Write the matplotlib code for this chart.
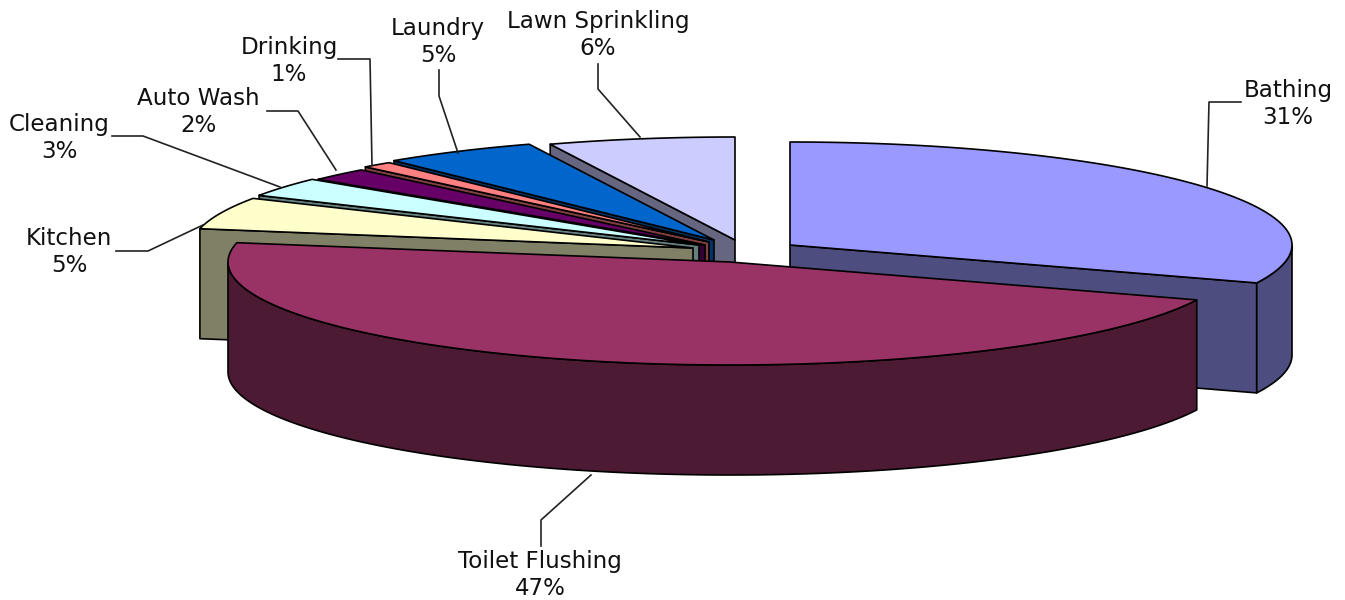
import numpy as np
import matplotlib
matplotlib.use("Agg")
import matplotlib.pyplot as plt
from matplotlib.patches import Polygon

# water use by category, clockwise from 12 o'clock
names = ["Bathing", "Toilet Flushing", "Kitchen", "Cleaning", "Auto Wash", "Drinking", "Laundry", "Lawn Sprinkling"]
values = [31, 47, 5, 3, 2, 1, 5, 6]

top_colors = ["#9999FF", "#993366", "#FFFFCC", "#CCFFFF", "#660066", "#FF8080", "#0066CC", "#CCCCFF"]
wall_colors = ["#4D4D80", "#4D1A33", "#808066", "#668080", "#330033", "#804040", "#003366", "#666680"]

# exploded slice tips in pixels
tip_x = [790, 730, 693, 699, 705, 709, 714, 735]
tip_y = [245, 262, 248, 245, 245, 242, 240, 240]

# label centres and leader lines in pixels
label_x = [1288, 540, 69, 59, 198, 289, 438, 598]
label_y = [104, 575, 252, 138, 112, 61, 42, 35]
leader_x = [[1241, 1209, 1207], [541, 541, 591], [116, 148, 203], [112, 143, 280],
            [267, 298, 336], [338, 370, 372], [439, 439, 458], [598, 598, 640]]
leader_y = [[102, 102, 186], [546, 520, 475], [251, 251, 225], [136, 136, 187],
            [111, 111, 170], [59, 59, 165], [70, 96, 153], [64, 89, 137]]

rx = 502
ry = 103
depth = 110
draw_order = [7, 6, 5, 4, 3, 2, 0, 1]

plt.rcParams["font.family"] = ["DejaVu Sans"]
fig = plt.figure(figsize=(13.45, 6), dpi=100)
ax = fig.add_axes([0, 0, 1, 1])
ax.set_xlim(0, 1345)
ax.set_ylim(600, 0)
ax.axis("off")


# points on the rim, angle in degrees clockwise from the top
def rim(cx, cy, a):
    a = np.radians(a)
    return cx + rx * np.sin(a), cy - ry * np.cos(a)


def add_poly(xs, ys, color):
    ax.add_patch(Polygon(np.column_stack([xs, ys]), closed=True, facecolor=color,
                         edgecolor="black", linewidth=1.2, joinstyle="round"))


edges = np.concatenate([[0], np.cumsum(values)]) * 360 / sum(values)

for i in draw_order:
    a0, a1 = edges[i], edges[i + 1]
    cx, cy = tip_x[i], tip_y[i]
    # cut faces that look towards the viewer
    if np.sin(np.radians(a0)) < 0:
        x, y = rim(cx, cy, a0)
        add_poly([cx, x, x, cx], [cy, y, y + depth, cy + depth], wall_colors[i])
    if np.sin(np.radians(a1)) > 0:
        x, y = rim(cx, cy, a1)
        add_poly([cx, x, x, cx], [cy, y, y + depth, cy + depth], wall_colors[i])
    # outer wall, front half of the ellipse only
    lo, hi = max(a0, 90), min(a1, 270)
    if lo < hi:
        x, y = rim(cx, cy, np.linspace(lo, hi, 120))
        add_poly(np.r_[x, x[::-1]], np.r_[y, y[::-1] + depth], wall_colors[i])
    # top face
    x, y = rim(cx, cy, np.linspace(a0, a1, 120))
    add_poly(np.r_[cx, x], np.r_[cy, y], top_colors[i])

for i in range(len(names)):
    ax.plot(leader_x[i], leader_y[i], color="#222222", linewidth=1.2)
    ax.text(label_x[i], label_y[i], f"{names[i]}\n{values[i]}%", ha="center", va="center",
            fontsize=16.6, color="#111111", linespacing=1.25)

fig.savefig("out.png", dpi=100)
